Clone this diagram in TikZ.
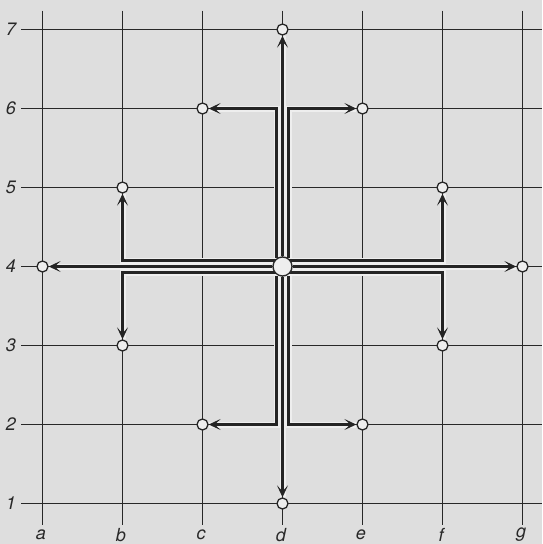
\documentclass[tikz,border=0pt]{standalone}
\usepackage{fontspec}
\setmainfont{TeX Gyre Heros}
\usetikzlibrary{arrows.meta}
\pgfdeclarelayer{back}
\pgfdeclarelayer{bg}
\pgfsetlayers{back,bg,main}
\definecolor{paper}{RGB}{222,222,222}
\definecolor{ink}{RGB}{40,40,40}
\definecolor{halo}{RGB}{238,238,238}
\tikzset{
  gridline/.style={draw=ink, line width=1.2pt},
  route/.style={draw=ink!90!black, line width=2.4pt,
    preaction={draw=halo, line width=6pt, -{}},
    -{Stealth[length=12pt,width=11pt,inset=6pt]}},
  pt/.style={circle, draw=ink, line width=1.3pt, fill=halo, minimum size=11pt, inner sep=0pt},
  hub/.style={circle, draw=ink, line width=1.3pt, fill=halo, minimum size=19pt, inner sep=0pt},
  lab/.style={font=\fontsize{18}{18}\selectfont\itshape, text=ink, inner sep=0pt}
}
\begin{document}
\begin{tikzpicture}[x=1pt,y=-1pt]
\useasboundingbox (0,0) rectangle (542,544);
\begin{pgfonlayer}{back}
\fill[paper] (0,0) rectangle (542,544);
\end{pgfonlayer}
% grid coordinates
\foreach \c [count=\i from 0] in {a,b,c,d,e,f,g}{
  \foreach \r in {1,...,7}{
    \coordinate (\c\r) at ({42.5+80*\i},{29.5+79*(7-\r)});
  }
}
% labels
\foreach \c [count=\i from 0] in {a,b,c,d,e,f,g}{
  \node[lab] (l\c) at ({41+80*\i},535) {\c};
}
\foreach \r in {1,...,7}{
  \node[lab] (n\r) at (11,{29.5+79*(7-\r)}) {\r};
}
% nodes
\node[hub] (ctr) at (d4) {};
\node[pt] (pd7) at (d7) {};
\node[pt] (pc6) at (c6) {};
\node[pt] (pe6) at (e6) {};
\node[pt] (pb5) at (b5) {};
\node[pt] (pf5) at (f5) {};
\node[pt] (pa4) at (a4) {};
\node[pt] (pg4) at (g4) {};
\node[pt] (pb3) at (b3) {};
\node[pt] (pf3) at (f3) {};
\node[pt] (pc2) at (c2) {};
\node[pt] (pe2) at (e2) {};
\node[pt] (pd1) at (d1) {};
\begin{pgfonlayer}{bg}
% grid
\foreach \r in {1,...,7}{
  \draw[gridline] (21,{29.5+79*(7-\r)}) -- (542,{29.5+79*(7-\r)});
}
\foreach \c in {a,b,c,d,e,f,g}{
  \draw[gridline] (\c7) ++(0,-19) -- (\c1) -- ++(0,21);
}
% offset routes
\draw[route] ([xshift=-6pt]ctr.center) |- (pc6);
\draw[route] ([xshift=6pt]ctr.center) |- (pe6);
\draw[route] ([xshift=-6pt]ctr.center) |- (pc2);
\draw[route] ([xshift=6pt]ctr.center) |- (pe2);
\draw[route] ([yshift=6pt]ctr.center) -| (pb5);
\draw[route] ([yshift=6pt]ctr.center) -| (pf5);
\draw[route] ([yshift=-6pt]ctr.center) -| (pb3);
\draw[route] ([yshift=-6pt]ctr.center) -| (pf3);
% straight routes
\draw[route] (ctr) -- (pd7);
\draw[route] (ctr) -- (pd1);
\draw[route] (ctr) -- (pa4);
\draw[route] (ctr) -- (pg4);
\end{pgfonlayer}
\end{tikzpicture}
\end{document}
